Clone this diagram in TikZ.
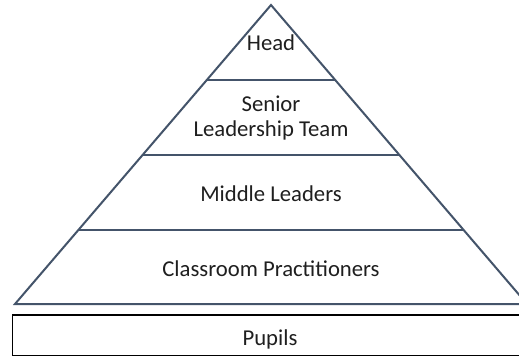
\documentclass[tikz,border=0pt]{standalone}
\usepackage{fontspec}
\setmainfont{Carlito}
\definecolor{pyr}{HTML}{44546A}
\definecolor{txt}{HTML}{1F1F1F}
\begin{document}
\begin{tikzpicture}[x=1pt,y=-1pt,
  pyrline/.style={draw=pyr,line width=2pt,line join=miter},
  lvl/.style={text=txt,font=\fontsize{22.7}{27}\selectfont,anchor=base,align=center,inner sep=0pt}]
\useasboundingbox[fill=white] (0,0) rectangle (519,359);
\clip (0,0) rectangle (519,359);
\coordinate (apex) at (271,5);
\coordinate (bl) at (15,304);
\coordinate (br) at (527,304);
\draw[pyrline] (apex) -- (bl) -- (br) -- cycle;
\draw[pyrline] (206.8,80) -- (335.2,80);
\draw[pyrline] (143,154.5) -- (399,154.5);
\draw[pyrline] (79,229.5) -- (463,229.5);
\node[lvl] (head) at (271,50) {Head};
\node[lvl] (slt1) at (271,111.7) {Senior};
\node[lvl] (slt2) at (271,136.7) {Leadership Team};
\node[lvl] (mid) at (271,201.7) {Middle Leaders};
\node[lvl] (cls) at (271,276) {Classroom Practitioners};
\draw[black,line width=1.5pt] (12.7,315) rectangle (530,355.5);
\node[lvl] (pup) at (270,345) {Pupils};
\end{tikzpicture}
\end{document}
